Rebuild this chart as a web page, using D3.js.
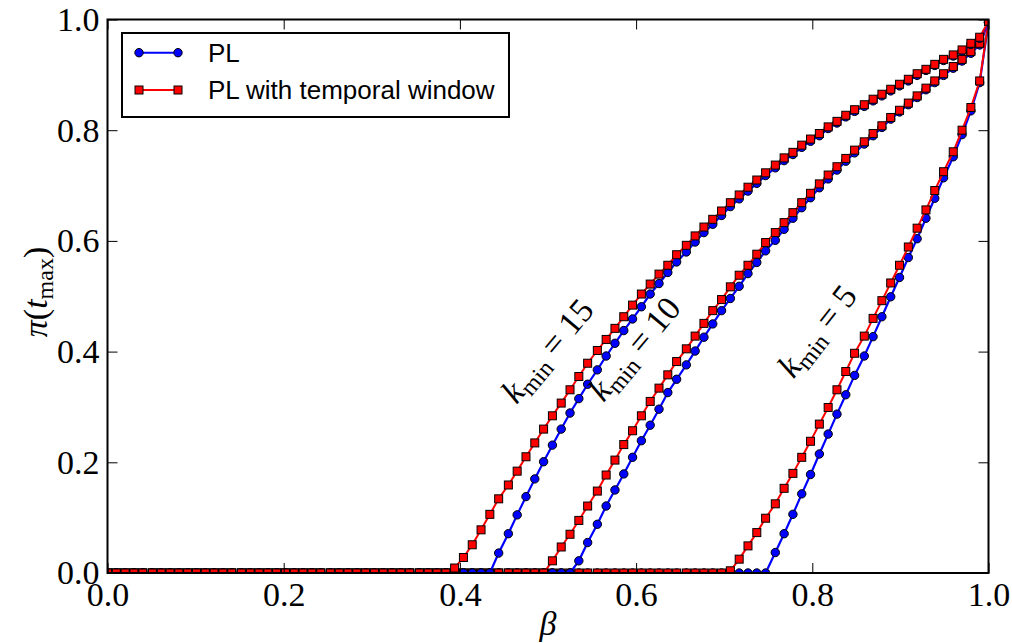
<!DOCTYPE html>
<html><head><meta charset="utf-8">
<script src="https://cdn.jsdelivr.net/npm/d3@7"></script>
<style>body{margin:0;background:#fff}</style>
</head><body><svg id="c" width="1012" height="643"></svg>
<script>
// beta grid (100 samples from 0 to 1)
const betas=[0.000,0.010,0.020,0.030,0.040,0.051,0.061,0.071,0.081,0.091,
0.101,0.111,0.121,0.131,0.141,0.152,0.162,0.172,0.182,0.192,
0.202,0.212,0.222,0.232,0.242,0.253,0.263,0.273,0.283,0.293,
0.303,0.313,0.323,0.333,0.343,0.354,0.364,0.374,0.384,0.394,
0.404,0.414,0.424,0.434,0.444,0.455,0.465,0.475,0.485,0.495,
0.505,0.515,0.525,0.535,0.545,0.556,0.566,0.576,0.586,0.596,
0.606,0.616,0.626,0.636,0.646,0.657,0.667,0.677,0.687,0.697,
0.707,0.717,0.727,0.737,0.747,0.758,0.768,0.778,0.788,0.798,
0.808,0.818,0.828,0.838,0.848,0.859,0.869,0.879,0.889,0.899,
0.909,0.919,0.929,0.939,0.949,0.960,0.970,0.980,0.990,1.000];

// PL, k_min = 5
const plK5=[0,0,0,0,0,0,0,0,0,0,
0,0,0,0,0,0,0,0,0,0,
0,0,0,0,0,0,0,0,0,0,
0,0,0,0,0,0,0,0,0,0,
0,0,0,0,0,0,0,0,0,0,
0,0,0,0,0,0,0,0,0,0,
0,0,0,0,0,0,0,0,0,0,
0,0,0,0,0,
0.037,0.071,0.106,0.143,0.178,0.215,0.251,0.287,0.322,0.357,0.392,0.427,0.463,0.499,0.534,0.570,0.604,0.641,0.677,0.714,0.752,0.792,0.835,0.886,0.995];
// PL with temporal window, k_min = 5
const twK5=[0,0,0,0,0,0,0,0,0,0,
0,0,0,0,0,0,0,0,0,0,
0,0,0,0,0,0,0,0,0,0,
0,0,0,0,0,0,0,0,0,0,
0,0,0,0,0,0,0,0,0,0,
0,0,0,0,0,0,0,0,0,0,
0,0,0,0,0,0,0,0,0,0,
0.004,0.025,0.049,0.073,0.099,0.125,0.153,0.180,0.209,0.238,0.269,0.299,0.331,0.364,0.397,0.428,0.460,0.492,0.524,0.556,0.589,0.623,0.656,0.691,0.725,0.761,0.800,0.841,0.889,0.997];
// PL, k_min = 10
const plK10=[0,0,0,0,0,0,0,0,0,0,
0,0,0,0,0,0,0,0,0,0,
0,0,0,0,0,0,0,0,0,0,
0,0,0,0,0,0,0,0,0,0,
0,0,0,0,0,0,0,0,0,0,
0,0,0,
0.022,0.055,0.088,0.121,0.150,0.179,0.209,0.239,0.267,0.296,0.326,0.350,0.376,0.401,0.426,0.450,0.474,0.496,0.518,0.541,0.561,0.582,0.601,0.621,0.641,0.660,0.678,0.696,0.712,0.728,0.744,0.759,0.775,0.790,0.805,0.820,0.833,0.846,0.859,0.873,0.886,0.899,0.912,0.925,0.939,0.954,0.995];
// PL with temporal window, k_min = 10
const twK10=[0,0,0,0,0,0,0,0,0,0,
0,0,0,0,0,0,0,0,0,0,
0,0,0,0,0,0,0,0,0,0,
0,0,0,0,0,0,0,0,0,0,
0,0,0,0,0,0,0,0,0,0,
0.022,0.047,0.070,0.095,0.121,0.148,0.177,0.204,0.232,0.257,0.284,0.310,0.334,0.358,0.382,0.405,0.428,0.451,0.474,0.494,0.517,0.538,0.556,0.576,0.597,0.615,0.633,0.651,0.669,0.686,0.703,0.719,0.734,0.749,0.764,0.779,0.794,0.808,0.823,0.836,0.849,0.862,0.876,0.889,0.902,0.915,0.928,0.942,0.957,0.997];
// PL, k_min = 15
const plK15=[0,0,0,0,0,0,0,0,0,0,
0,0,0,0,0,0,0,0,0,0,
0,0,0,0,0,0,0,0,0,0,
0,0,0,0,0,0,0,0,0,0,
0,0,0,0,
0.036,0.071,0.105,0.138,0.170,0.201,0.231,0.260,0.289,0.315,0.341,0.367,0.392,0.415,0.438,0.459,0.481,0.504,0.523,0.543,0.562,0.580,0.598,0.615,0.630,0.646,0.662,0.676,0.690,0.704,0.718,0.732,0.745,0.756,0.769,0.780,0.790,0.803,0.813,0.824,0.834,0.843,0.853,0.862,0.871,0.880,0.889,0.899,0.908,0.917,0.926,0.934,0.943,0.955,0.966,0.995];
// PL with temporal window, k_min = 15
const twK15=[0,0,0,0,0,0,0,0,0,0,
0,0,0,0,0,0,0,0,0,0,
0,0,0,0,0,0,0,0,0,0,
0,0,0,0,0,0,0,0,0,
0.009,0.028,0.051,0.078,0.106,0.134,0.159,0.184,0.210,0.235,0.260,0.284,0.307,0.331,0.355,0.379,0.402,0.422,0.442,0.463,0.484,0.504,0.522,0.540,0.556,0.575,0.592,0.609,0.625,0.639,0.654,0.669,0.683,0.697,0.710,0.723,0.737,0.750,0.760,0.773,0.784,0.794,0.806,0.816,0.827,0.837,0.846,0.856,0.865,0.874,0.883,0.892,0.902,0.910,0.919,0.928,0.936,0.945,0.957,0.968,0.997];

const xTicks=[0,0.2,0.4,0.6,0.8,1.0];
const yTicks=[0,0.2,0.4,0.6,0.8,1.0];
const legendLabels=["PL","PL with temporal window"];
const kLabels=["15","10","5"];

const svg=d3.select("#c");
const L=107.5,R=988.5,T=19.5,B=573;
const x=d3.scaleLinear().domain([0,1]).range([L,R]);
const y=d3.scaleLinear().domain([0,1]).range([B,T]);
const BLUE="#0000ff",RED="#ff0000";
const SERIF="'Liberation Serif','Times New Roman',serif";
const SANS="'Liberation Sans',Arial,sans-serif";

svg.append("rect").attr("width",1012).attr("height",643).attr("fill","#fff");
svg.append("defs").append("clipPath").attr("id","clip")
  .append("rect").attr("x",L).attr("y",T).attr("width",R-L).attr("height",B-T);

const series=[
  {v:plK5,kind:"pl"},{v:twK5,kind:"tw"},
  {v:plK10,kind:"pl"},{v:twK10,kind:"tw"},
  {v:plK15,kind:"pl"},{v:twK15,kind:"tw"}];

const g=svg.append("g").attr("clip-path","url(#clip)");
const line=d3.line().x((d,i)=>x(betas[i])).y(d=>y(d));
series.forEach(s=>{
  const col=s.kind==="pl"?BLUE:RED;
  g.append("path").datum(s.v).attr("d",line).attr("fill","none")
    .attr("stroke",col).attr("stroke-width",s.kind==="pl"?2.2:2);
  if(s.kind==="pl"){
    g.selectAll(null).data(s.v).enter().append("circle")
      .attr("cx",(d,i)=>x(betas[i])).attr("cy",d=>y(d)).attr("r",4.2)
      .attr("fill",BLUE).attr("stroke","#000").attr("stroke-width",1);
  } else {
    g.selectAll(null).data(s.v).enter().append("rect")
      .attr("x",(d,i)=>x(betas[i])-4).attr("y",d=>y(d)-4).attr("width",8).attr("height",8)
      .attr("fill",RED).attr("stroke","#000").attr("stroke-width",1);
  }
});

// axes
const fmt=d3.format(".1f");
const axB=svg.append("g").attr("transform",`translate(0,${B})`)
  .call(d3.axisBottom(x).tickValues(xTicks).tickSize(-10).tickPadding(9).tickFormat(fmt));
const axT=svg.append("g").attr("transform",`translate(0,${T})`)
  .call(d3.axisTop(x).tickValues(xTicks).tickSize(-10).tickFormat(""));
const axL=svg.append("g").attr("transform",`translate(${L},0)`)
  .call(d3.axisLeft(y).tickValues(yTicks).tickSize(-10).tickPadding(8).tickFormat(fmt));
const axR=svg.append("g").attr("transform",`translate(${R},0)`)
  .call(d3.axisRight(y).tickValues(yTicks).tickSize(-10).tickFormat(""));
[axB,axT,axL,axR].forEach(a=>{
  a.select(".domain").remove();
  a.selectAll(".tick line").attr("stroke","#000").attr("stroke-width",1);
  a.selectAll("text").attr("font-family",SERIF).attr("font-size",34).attr("fill","#000");
});
svg.append("rect").attr("x",L).attr("y",T).attr("width",R-L).attr("height",B-T)
  .attr("fill","none").attr("stroke","#000").attr("stroke-width",2);

// axis labels
svg.append("text").attr("x",548).attr("y",635).attr("text-anchor","middle")
  .attr("font-family",SERIF).attr("font-size",34).attr("font-style","italic").text("β");
const yl=svg.append("text").attr("transform","translate(47,292) rotate(-90)")
  .attr("text-anchor","middle").attr("font-family",SERIF).attr("font-size",34);
yl.append("tspan").attr("font-style","italic").text("π");
yl.append("tspan").text("(");
yl.append("tspan").attr("font-style","italic").text("t");
yl.append("tspan").attr("font-size",24).attr("dy",6).text("max");
yl.append("tspan").attr("dy",-6).text(")");

// k_min annotations
const annPos=[{cx:556,cy:358,a:-50},{cx:643,cy:356,a:-50},{cx:826,cy:338,a:-52}];
kLabels.forEach((k,i)=>{
  const p=annPos[i];
  const t=svg.append("text").attr("transform",`translate(${p.cx},${p.cy}) rotate(${p.a})`)
    .attr("text-anchor","middle").attr("font-family",SERIF).attr("font-size",34);
  t.append("tspan").attr("font-style","italic").text("k");
  t.append("tspan").attr("font-size",24).attr("dy",6).text("min");
  t.append("tspan").attr("dy",-6).text(" = "+k);
});

// legend
const lg=svg.append("g");
lg.append("rect").attr("x",122).attr("y",33).attr("width",387).attr("height",84)
  .attr("fill","#fff").attr("stroke","#000").attr("stroke-width",2);
legendLabels.forEach((lab,i)=>{
  const yy=[52.7,90][i];
  const col=i===0?BLUE:RED;
  lg.append("line").attr("x1",139).attr("x2",178).attr("y1",yy).attr("y2",yy)
    .attr("stroke",col).attr("stroke-width",2);
  [139,178].forEach(xx=>{
    if(i===0) lg.append("circle").attr("cx",xx).attr("cy",yy).attr("r",4.2)
      .attr("fill",BLUE).attr("stroke","#000");
    else lg.append("rect").attr("x",xx-4).attr("y",yy-4).attr("width",8).attr("height",8)
      .attr("fill",RED).attr("stroke","#000");
  });
  lg.append("text").attr("x",208).attr("y",yy+9.3).attr("font-family",SANS)
    .attr("font-size",26).text(lab);
});
</script></body></html>
